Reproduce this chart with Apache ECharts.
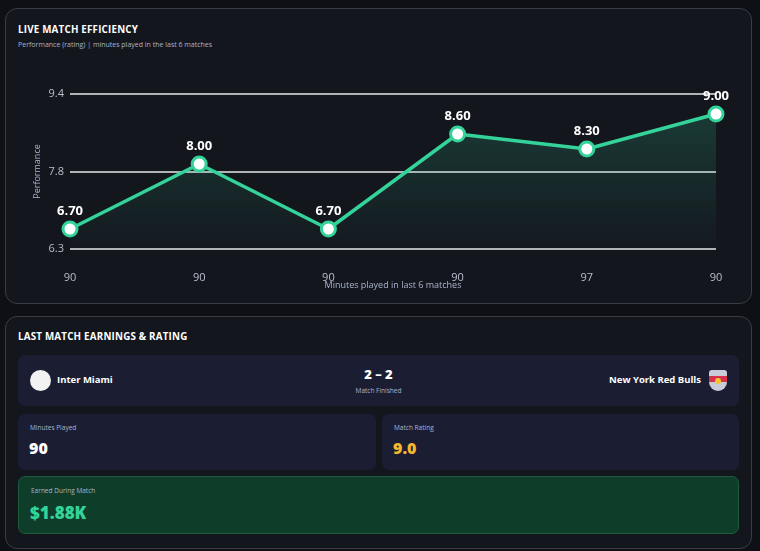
<!DOCTYPE html>
<html>
<head>
<meta charset="utf-8">
<script src="https://cdn.jsdelivr.net/npm/echarts@6/dist/echarts.min.js"></script>
<style>
    html, body { margin: 0; padding: 0; background: #0e1015; width: 760px; height: 551px; overflow: hidden; font-family: "Open Sans", "Noto Sans", sans-serif; color: #fff; }
    .panel { position: absolute; left: 5px; width: 747px; background: #14161e; border: 1px solid #3a3d46; border-radius: 12px; box-sizing: border-box; }
    .p1 { top: 8px; height: 296px; }
    .p2 { top: 316px; height: 233px; }
    .title { position: absolute; left: 12px; font-weight: 700; font-size: 9.8px; letter-spacing: 0.2px; }
    .sub { position: absolute; left: 12px; font-size: 7px; color: #a9b3cc; }
    #chart { position: absolute; left: 0; top: 0; width: 745px; height: 294px; }
    .card { position: absolute; background: #1b1e33; border-radius: 7px; }
    .lbl { position: absolute; left: 12px; top: 9px; font-size: 6.5px; color: #aab4cf; }
    .val { position: absolute; left: 11px; top: 23px; font-size: 16px; font-weight: 800; }
</style>
</head>
<body>
<div class="panel p1">
    <div class="title" style="top:14px">LIVE MATCH EFFICIENCY</div>
    <div class="sub" style="top:31px">Performance (rating) | minutes played in the last 6 matches</div>
    <div id="chart"></div>
</div>
<div class="panel p2">
    <div class="title" style="top:13px">LAST MATCH EARNINGS &amp; RATING</div>
    <div class="card" style="left:12px;top:38px;width:721px;height:51px">
        <div style="position:absolute;left:12px;top:15px;width:21px;height:21px;border-radius:50%;background:#f2f2f2"></div>
        <div style="position:absolute;left:39px;top:18px;font-size:9.5px;font-weight:700">Inter Miami</div>
        <div style="position:absolute;left:0;width:721px;top:10px;text-align:center;font-size:13px;font-weight:800">2 – 2</div>
        <div style="position:absolute;left:0;width:721px;top:31px;text-align:center;font-size:6.5px;color:#aab4cf">Match Finished</div>
        <div style="position:absolute;right:38px;top:18px;font-size:9.5px;font-weight:700">New York Red Bulls</div>
        <div style="position:absolute;right:12px;top:15px;width:18px;height:21px;border-radius:3px 3px 9px 9px;background:#c9ccd6;overflow:hidden">
            <div style="position:absolute;left:0;top:6px;width:18px;height:6px;background:#d8324a"></div>
            <div style="position:absolute;left:6px;top:8px;width:6px;height:6px;border-radius:50%;background:#f3c531"></div>
        </div>
    </div>
    <div class="card" style="left:12px;top:97px;width:358px;height:56px">
        <div class="lbl">Minutes Played</div>
        <div class="val">90</div>
    </div>
    <div class="card" style="left:376px;top:97px;width:357px;height:56px">
        <div class="lbl">Match Rating</div>
        <div class="val" style="color:#f5b82e">9.0</div>
    </div>
    <div class="card" style="left:12px;top:159px;width:721px;height:58px;background:#0e3d29;border:1px solid #1c5a3b;box-sizing:border-box">
        <div class="lbl">Earned During Match</div>
        <div class="val" style="top:24px;font-size:17px;color:#34d399">$1.88K</div>
    </div>
</div>
<script>
    // minutes played per match (x axis) and ratings
    var minutes = ["90", "90", "90", "90", "97", "90"];
    var ratings = [6.7, 8.0, 6.7, 8.6, 8.3, 9.0];
    var yMin = 6.3,
        yMax = 9.4;

    var chart = echarts.init(document.getElementById('chart'));
    chart.setOption({
        animation: false,
        grid: { left: 64, right: 35, top: 85, bottom: 54 },
        xAxis: {
            type: 'category',
            boundaryGap: false,
            data: minutes,
            name: 'Minutes played in last 6 matches',
            nameLocation: 'middle',
            nameGap: 32,
            nameMoveOverlap: false,
            nameTextStyle: { color: '#aab4cf', fontSize: 9, fontFamily: 'Open Sans' },
            axisLine: { show: false },
            axisTick: { show: false },
            axisLabel: { color: '#b9bfcc', fontSize: 11, margin: 23, fontFamily: 'Open Sans' }
        },
        yAxis: {
            type: 'value',
            min: yMin,
            max: yMax,
            interval: (yMax - yMin) / 2,
            name: 'Performance',
            nameLocation: 'middle',
            nameGap: 28,
            nameMoveOverlap: false,
            nameTextStyle: { color: '#aab4cf', fontSize: 9, fontFamily: 'Open Sans' },
            axisLabel: {
                color: '#b9bfcc', fontSize: 11, margin: 6, fontFamily: 'Open Sans',
                formatter: function (v) { return v.toFixed(1); }
            },
            splitLine: { lineStyle: { color: '#e6e8ee', width: 1.5 } }
        },
        series: [{
            type: 'line',
            data: ratings,
            symbol: 'circle',
            symbolSize: 14,
            lineStyle: { color: '#34d399', width: 3.5 },
            itemStyle: { color: '#ffffff', borderColor: '#34d399', borderWidth: 3 },
            label: {
                show: true,
                position: 'top',
                distance: 3,
                color: '#ffffff',
                fontSize: 13,
                fontWeight: 'bold',
                fontFamily: 'Open Sans',
                formatter: function (p) { return p.value.toFixed(2); }
            },
            areaStyle: {
                color: new echarts.graphic.LinearGradient(0, 0, 0, 1, [
                    { offset: 0, color: 'rgba(52,211,153,0.28)' },
                    { offset: 1, color: 'rgba(52,211,153,0.02)' }
                ])
            }
        }]
    });
</script>
</body>
</html>
